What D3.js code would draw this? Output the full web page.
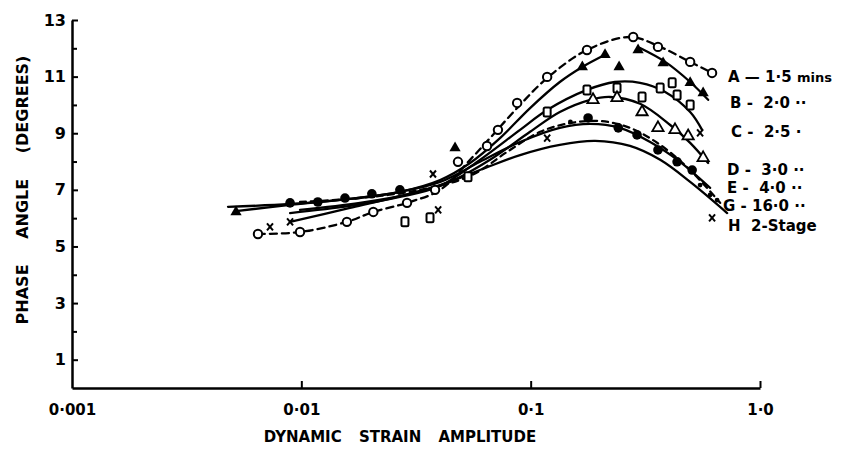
<!DOCTYPE html>
<html>
<head>
<meta charset="utf-8">
<script src="https://cdn.jsdelivr.net/npm/d3@7"></script>
<style>
  body { margin: 0; background: #fff; }
  svg { display: block; font-family: "DejaVu Sans", sans-serif; font-weight: bold; }
</style>
</head>
<body>
<svg id="chart" width="850" height="457"></svg>
<script>
// axis ticks
const xTicks = [0.001, 0.01, 0.1, 1.0];
const xTickLabels = ["0·001", "0·01", "0·1", "1·0"];
const yTicks = [1, 3, 5, 7, 9, 11, 13];
const yMinorTicks = [2, 4, 6, 8, 10, 12];

// fitted curves, [strain amplitude, phase angle]; null = break in the pen line
const curveA = [[0.00647,5.44],[0.00987,5.51],[0.0158,5.87],[0.0206,6.22],[0.0289,6.54],[0.0403,7.0],[0.0544,8.06],[0.0665,8.83],[0.0873,9.89],[0.118,10.95],[0.176,11.94],[0.271,12.4],[0.367,12.05],[0.496,11.52],[0.618,11.13]];
const curveB = [[0.00519,6.25],[0.00893,6.47],[0.0163,6.68],[0.0269,6.93],[0.0403,7.35],[0.0544,7.95],[0.0735,8.83],[0.0994,9.89],[0.134,10.81],[0.168,11.34],[0.211,11.77],null,[0.300,12.01],[0.386,11.52],[0.496,10.81],[0.594,10.18]];
const curveC = [[0.00893,6.18],[0.0163,6.43],[0.0269,6.75],[0.0403,7.14],[0.0601,8.06],[0.0899,9.12],[0.118,9.82],[0.176,10.53],[0.233,10.81],[0.300,10.78],[0.386,10.46],[0.496,9.75],[0.559,9.12]];
const curveD = [[0.00987,6.29],[0.018,6.54],[0.0298,6.86],[0.0445,7.28],[0.0665,8.06],[0.0994,9.05],[0.134,9.75],[0.182,10.18],[0.222,10.28],[0.300,10.04],[0.406,9.29],[0.496,8.66],[0.594,7.95]];
const curveE = [[0.00479,6.4],[0.00893,6.5],[0.0163,6.68],[0.0269,6.93],[0.0403,7.28],[0.0601,7.99],[0.0899,8.69],[0.134,9.19],[0.182,9.33],[0.245,9.19],[0.332,8.69],[0.448,7.99],[0.606,7.07]];
const curveG = [[0.00987,6.57],[0.018,6.71],[0.0329,7.0],[0.0544,7.49],[0.0813,8.41],[0.110,9.05],[0.149,9.36],[0.201,9.43],[0.271,9.19],[0.367,8.59],[0.496,7.7],[0.670,6.54]];
const curveH = [[0.00893,5.87],[0.0163,6.36],[0.0269,6.78],[0.0403,7.17],[0.0601,7.7],[0.0899,8.23],[0.134,8.59],[0.191,8.73],[0.271,8.55],[0.367,8.06],[0.496,7.28],[0.719,6.18]];

// measured points
const pointsA = [[0.00647,5.44],[0.00987,5.51],[0.0158,5.87],[0.0206,6.22],[0.0289,6.54],[0.0383,7.0],[0.0482,7.99],[0.0645,8.55],[0.072,9.12],[0.0873,10.07],[0.118,10.99],[0.176,11.94],[0.280,12.4],[0.359,12.05],[0.496,11.52],[0.618,11.13]];
const pointsB = [[0.00519,6.22],[0.0468,8.48],[0.168,11.34],[0.211,11.77],[0.243,11.34],[0.294,11.94],[0.378,11.48],[0.496,10.78],[0.565,10.42]];
const pointsC = [[0.0283,5.87],[0.0364,6.01],[0.0533,7.46],[0.118,9.75],[0.176,10.53],[0.238,10.6],[0.306,10.28],[0.367,10.6],[0.414,10.78],[0.435,10.35],[0.496,10.0]];
const pointsD = [[0.187,10.18],[0.238,10.25],[0.306,9.75],[0.359,9.19],[0.426,9.12],[0.486,8.9],[0.565,8.13]];
const pointsE = [[0.00893,6.54],[0.0118,6.57],[0.0155,6.71],[0.0203,6.86],[0.0269,7.0],[0.178,9.54],[0.241,9.19],[0.291,8.94],[0.359,8.41],[0.435,7.99],[0.506,7.7]];
const pointsG = [[0.149,9.4],[0.548,7.17],[0.606,6.82],[0.650,6.64]];
const pointsH = [[0.0073,5.69],[0.00893,5.87],[0.0375,7.56],[0.0395,6.29],[0.118,8.83],[0.548,9.01],[0.618,6.01]];

const seriesKeys = ["A", "B", "C", "D", "E", "G", "H"];
const seriesLabels = ["— 1·5 mins", "-  2·0 ··", "-  2·5 ·", "-  3·0 ··", "-  4·0 ··", "- 16·0 ··", " 2-Stage"];

const svg = d3.select("#chart");
const margin = { top: 20, left: 72, bottom: 69 };
const yBase = 457 - margin.bottom;

const x = d3.scaleLog().domain([0.001, 1]).range([margin.left, 760]);
const y = d3.scaleLinear().domain([0, 13]).range([yBase, 20]);

const series = [
  { key: "A", curve: curveA, pts: pointsA, marker: "circle", dash: "7,5" },
  { key: "B", curve: curveB, pts: pointsB, marker: "triFill", dash: null },
  { key: "C", curve: curveC, pts: pointsC, marker: "square", dash: null },
  { key: "D", curve: curveD, pts: pointsD, marker: "triOpen", dash: null },
  { key: "E", curve: curveE, pts: pointsE, marker: "dotBig", dash: null },
  { key: "G", curve: curveG, pts: pointsG, marker: "dotSmall", dash: "6,5" },
  { key: "H", curve: curveH, pts: pointsH, marker: "cross", dash: null }
];

// axes
const yAxis = svg.append("g")
  .attr("transform", `translate(${margin.left},0)`)
  .call(d3.axisLeft(y).tickValues(yTicks).tickSize(-6).tickSizeOuter(0).tickPadding(6));
svg.append("g")
  .attr("transform", `translate(${margin.left},0)`)
  .call(d3.axisLeft(y).tickValues(yMinorTicks).tickSize(-5).tickSizeOuter(0).tickFormat(""))
  .select(".domain").remove();
const xAxis = svg.append("g")
  .attr("transform", `translate(0,${yBase})`)
  .call(d3.axisBottom(x).tickValues(xTicks).tickSize(-7).tickSizeOuter(0).tickPadding(16)
    .tickFormat((d, i) => xTickLabels[i]));

svg.selectAll(".domain").attr("stroke", "#000").attr("stroke-width", 2.5);
svg.selectAll(".tick line").attr("stroke", "#000").attr("stroke-width", 2);
svg.selectAll(".tick text")
  .attr("fill", "#000")
  .style("font-family", "'DejaVu Sans', sans-serif")
  .style("font-weight", "bold");
yAxis.selectAll(".tick text").style("font-size", "16px");
xAxis.selectAll(".tick text").style("font-size", "15px");
xAxis.select(".tick line").remove();

// curves
const line = d3.line()
  .defined(d => d !== null)
  .x(d => x(d[0]))
  .y(d => y(d[1]))
  .curve(d3.curveCatmullRom.alpha(0.5));

svg.append("g").selectAll("path")
  .data(series)
  .join("path")
  .attr("d", d => line(d.curve))
  .attr("fill", "none")
  .attr("stroke", "#000")
  .attr("stroke-width", 2.3)
  .attr("stroke-linecap", "round")
  .attr("stroke-dasharray", d => d.dash);

// markers
const tri = d3.symbol().type(d3.symbolTriangle).size(55);
const markers = svg.append("g");
series.forEach(s => {
  const g = markers.append("g");
  const sel = g.selectAll("g").data(s.pts).join("g")
    .attr("transform", d => `translate(${x(d[0])},${y(d[1])})`);
  if (s.marker === "circle") {
    sel.append("circle").attr("r", 4.2).attr("fill", "#fff").attr("stroke", "#000").attr("stroke-width", 2);
  } else if (s.marker === "triFill") {
    sel.append("path").attr("d", tri).attr("fill", "#000");
  } else if (s.marker === "triOpen") {
    sel.append("path").attr("d", tri).attr("fill", "#fff").attr("stroke", "#000").attr("stroke-width", 1.8);
  } else if (s.marker === "square") {
    sel.append("rect").attr("x", -3.5).attr("y", -4.5).attr("width", 7).attr("height", 9).attr("rx", 1.5)
      .attr("fill", "#fff").attr("stroke", "#000").attr("stroke-width", 2);
  } else if (s.marker === "dotBig") {
    sel.append("circle").attr("r", 4.8).attr("fill", "#000");
  } else if (s.marker === "dotSmall") {
    sel.append("circle").attr("r", 2.4).attr("fill", "#000");
  } else if (s.marker === "cross") {
    sel.append("path").attr("d", "M-3,-3.5L3,3.5M3,-3.5L-3,3.5")
      .attr("stroke", "#000").attr("stroke-width", 2).attr("fill", "none");
  }
});

// legend (hand lettered keys on the right)
const legendBase = [82, 108, 137, 175, 193, 211, 231];
const legendX = [728, 730, 731, 727, 727, 723, 728];
const legend = svg.append("g").style("font-size", "15px");
seriesKeys.forEach((k, i) => {
  const t = legend.append("text")
    .attr("x", legendX[i])
    .attr("y", legendBase[i])
    .attr("xml:space", "preserve")
    .attr("fill", "#000");
  t.append("tspan").text(k + " ");
  if (i === 0) {
    t.append("tspan").text("— 1·5 ");
    t.append("tspan").style("font-size", "13px").text("mins");
  } else {
    t.append("tspan").text(seriesLabels[i]);
  }
});

// axis titles
svg.append("text")
  .attr("transform", `translate(28,190) rotate(-90)`)
  .attr("text-anchor", "middle")
  .style("font-size", "16px")
  .style("word-spacing", "20px")
  .text("PHASE ANGLE (DEGREES)");

svg.append("text")
  .attr("x", 400)
  .attr("y", 442)
  .attr("text-anchor", "middle")
  .style("font-size", "15px")
  .style("word-spacing", "12px")
  .text("DYNAMIC STRAIN AMPLITUDE");
</script>
</body>
</html>
